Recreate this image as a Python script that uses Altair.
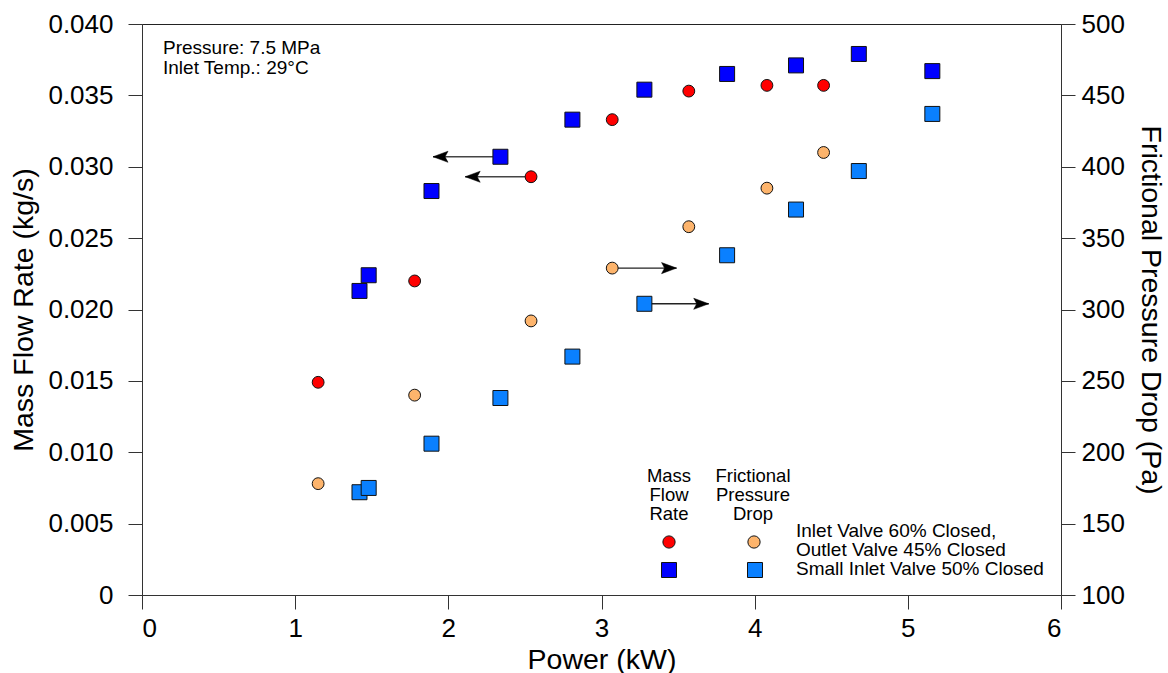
import altair as alt
import pandas as pd

FONT = "Liberation Sans"

# Inlet valve 60% closed, outlet valve 45% closed
power_a = [1.15, 1.78, 2.54, 3.07, 3.57, 4.08, 4.45]
mass_a = [0.0149, 0.0220, 0.0293, 0.0333, 0.0353, 0.0357, 0.0357]
dp_a = [178, 240, 292, 329, 358, 385, 410]

# Small inlet valve 50% closed
power_b = [1.42, 1.48, 1.89, 2.34, 2.81, 3.28, 3.82, 4.27, 4.68, 5.16]
mass_b = [0.0213, 0.0224, 0.0283, 0.0307, 0.0333, 0.0354, 0.0365, 0.0371, 0.0379, 0.0367]
dp_b = [172, 175, 206, 238, 267, 304, 338, 370, 397, 437]

# Arrows telling which axis a series belongs to (from a point towards its axis)
mass_arrow_from = [2.34, 2.54]
mass_arrow_to = [1.90, 2.11]
mass_arrow_y = [0.0307, 0.0293]
dp_arrow_from = [3.07, 3.28]
dp_arrow_to = [3.49, 3.70]
dp_arrow_y = [329, 304]

x_ticks = [0, 1, 2, 3, 4, 5, 6]
mass_ticks = [0, 0.005, 0.010, 0.015, 0.020, 0.025, 0.030, 0.035, 0.040]
dp_ticks = [100, 150, 200, 250, 300, 350, 400, 450, 500]

RED, ORANGE, BLUE, LIGHTBLUE = "#FF0000", "#FDB46C", "#0000FF", "#0A80FF"

df_a = pd.DataFrame({"power": power_a, "mass": mass_a, "dp": dp_a})
df_b = pd.DataFrame({"power": power_b, "mass": mass_b, "dp": dp_b})
df_mass_arrow = pd.DataFrame({"x": mass_arrow_from, "x2": mass_arrow_to, "y": mass_arrow_y})
df_dp_arrow = pd.DataFrame({"x": dp_arrow_from, "x2": dp_arrow_to, "y": dp_arrow_y})
one = pd.DataFrame({"k": [0]})

axis_common = dict(
    grid=False, domainColor="#333333", tickColor="#333333", tickSize=14,
    labelFont=FONT, labelFontSize=26, labelColor="black",
    titleFont=FONT, titleFontSize=28.5, titleFontWeight="normal", titleColor="black",
)

x_scale = alt.Scale(domain=[0, 6], nice=False, zero=False)
x_axis = alt.Axis(values=x_ticks, format="d", title="Power (kW)",
                  labelPadding=6, titlePadding=4, **axis_common)

mass_scale = alt.Scale(domain=[0, 0.04], nice=False, zero=False)
mass_axis = alt.Axis(orient="left", values=mass_ticks, title="Mass Flow Rate (kg/s)",
                     labelExpr="datum.value == 0 ? '0' : format(datum.value, '.3f')",
                     labelPadding=15, titlePadding=9, **axis_common)

dp_scale = alt.Scale(domain=[100, 500], nice=False, zero=False)
dp_axis = alt.Axis(orient="right", values=dp_ticks, format="d",
                   title="Frictional Pressure Drop (Pa)",
                   labelPadding=6, titlePadding=11, **axis_common)

X = alt.X("power:Q", scale=x_scale, axis=x_axis)
Y_mass = alt.Y("mass:Q", scale=mass_scale, axis=mass_axis)
Y_dp = alt.Y("dp:Q", scale=dp_scale, axis=dp_axis)

# arrowheads with a notched back, tip at the anchor point
HEAD_LEFT = "M0,0 L2,-0.74 L1.6,0 L2,0.74 Z"
HEAD_RIGHT = "M0,0 L-2,-0.74 L-1.6,0 L-2,0.74 Z"
HEAD_SIZE = 225


def markers(df, y, shape, fill, size):
    return alt.Chart(df).mark_point(
        shape=shape, filled=True, fill=fill, stroke="#111111", strokeWidth=1,
        opacity=1, fillOpacity=1, size=size,
    ).encode(x=X, y=y)


# ---- left axis group: mass flow rate
mass_arrow_line = alt.Chart(df_mass_arrow).mark_rule(color="#444444", strokeWidth=1.4).encode(
    x=alt.X("x:Q", scale=x_scale, axis=x_axis),
    x2="x2:Q",
    y=alt.Y("y:Q", scale=mass_scale, axis=mass_axis),
)
mass_arrow_head = alt.Chart(df_mass_arrow).mark_point(
    shape=HEAD_LEFT, filled=True, fill="black", stroke="black", strokeWidth=0.5,
    opacity=1, size=HEAD_SIZE,
).encode(
    x=alt.X("x2:Q", scale=x_scale, axis=x_axis),
    y=alt.Y("y:Q", scale=mass_scale, axis=mass_axis),
)
mass_a_pts = markers(df_a, Y_mass, "circle", RED, 140)
mass_b_pts = markers(df_b, Y_mass, "square", BLUE, 225)


# fixed annotation text and the hand-made key (pixel positions inside the plot area)
def label(text, x, y, align="left", size=19):
    return alt.Chart(one).mark_text(
        font=FONT, fontSize=size, color="black", align=align, baseline="middle", lineHeight=19,
    ).encode(x=alt.value(x), y=alt.value(y), text=alt.value(text))


def key_symbol(shape, fill, x, y, size):
    return alt.Chart(one).mark_point(
        shape=shape, filled=True, fill=fill, stroke="#111111", strokeWidth=1,
        opacity=1, fillOpacity=1, size=size,
    ).encode(x=alt.value(x), y=alt.value(y))


notes = [
    label("Pressure: 7.5 MPa", 21, 24),
    label("Inlet Temp.: 29°C", 21, 44),
    label(["Mass", "Flow", "Rate"], 527, 452, align="center", size=18.5),
    label(["Frictional", "Pressure", "Drop"], 611, 452, align="center", size=18.5),
    label("Inlet Valve 60% Closed,", 654, 507),
    label("Outlet Valve 45% Closed", 654, 526),
    label("Small Inlet Valve 50% Closed", 654, 545),
    key_symbol("circle", RED, 527, 518, 150),
    key_symbol("circle", ORANGE, 612, 518, 150),
    key_symbol("square", BLUE, 527, 546, 225),
    key_symbol("square", LIGHTBLUE, 613, 546, 225),
]

left = alt.layer(mass_arrow_line, mass_arrow_head, mass_a_pts, mass_b_pts, *notes)

# ---- right axis group: frictional pressure drop
dp_arrow_line = alt.Chart(df_dp_arrow).mark_rule(color="#222222", strokeWidth=1.4).encode(
    x=alt.X("x:Q", scale=x_scale, axis=x_axis),
    x2="x2:Q",
    y=alt.Y("y:Q", scale=dp_scale, axis=dp_axis),
)
dp_arrow_head = alt.Chart(df_dp_arrow).mark_point(
    shape=HEAD_RIGHT, filled=True, fill="black", stroke="black", strokeWidth=0.5,
    opacity=1, size=HEAD_SIZE,
).encode(
    x=alt.X("x2:Q", scale=x_scale, axis=x_axis),
    y=alt.Y("y:Q", scale=dp_scale, axis=dp_axis),
)
dp_a_pts = markers(df_a, Y_dp, "circle", ORANGE, 140)
dp_b_pts = markers(df_b, Y_dp, "square", LIGHTBLUE, 225)

right = alt.layer(dp_arrow_line, dp_arrow_head, dp_a_pts, dp_b_pts)

chart = (
    alt.layer(left, right)
    .resolve_scale(y="independent")
    .properties(
        width=919, height=571,
        autosize=alt.AutoSizeParams(type="none"),
        padding={"left": 142, "top": 24, "right": 107, "bottom": 78},
        background="white",
    )
    .configure_view(stroke="#222222", strokeWidth=1)
)

chart.save("out.html", embed_options={"renderer": "svg", "actions": False})
